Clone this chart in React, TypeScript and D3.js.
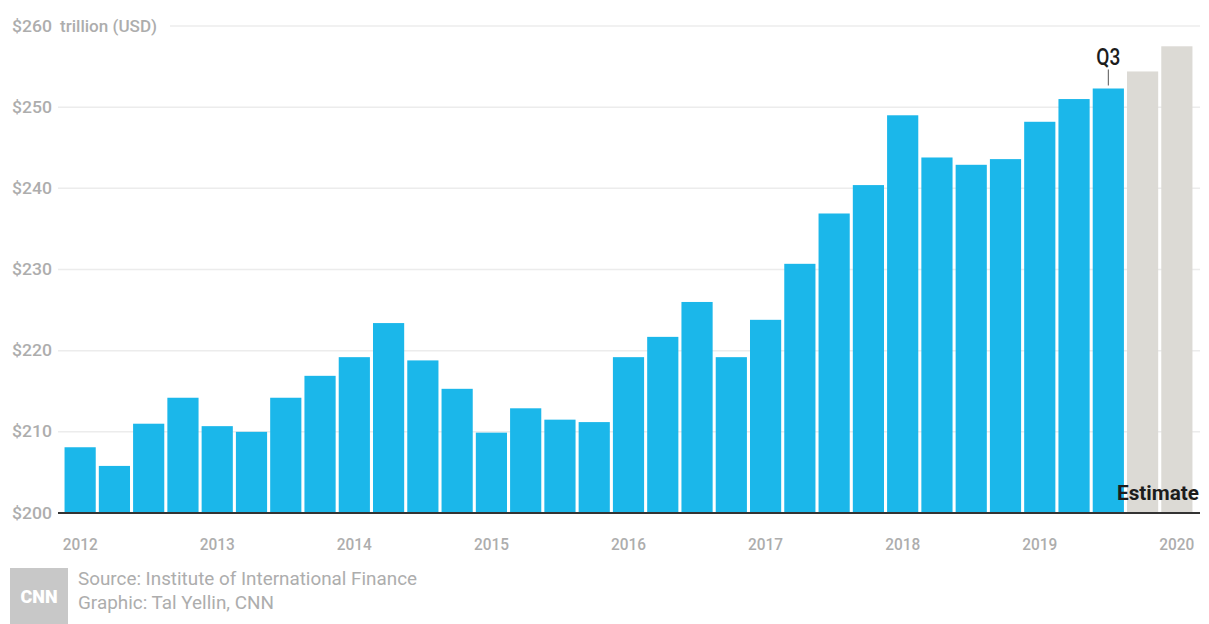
import React from "react";
import * as d3 from "d3";

const quarters = [
  "2012Q1","2012Q2","2012Q3","2012Q4",
  "2013Q1","2013Q2","2013Q3","2013Q4",
  "2014Q1","2014Q2","2014Q3","2014Q4",
  "2015Q1","2015Q2","2015Q3","2015Q4",
  "2016Q1","2016Q2","2016Q3","2016Q4",
  "2017Q1","2017Q2","2017Q3","2017Q4",
  "2018Q1","2018Q2","2018Q3","2018Q4",
  "2019Q1","2019Q2","2019Q3","2019E","2020E",
];
const debt = [
  208.1, 205.8, 211.0, 214.2,
  210.7, 210.0, 214.2, 216.9,
  219.2, 223.4, 218.8, 215.3,
  209.9, 212.9, 211.5, 211.2,
  219.2, 221.7, 226.0, 219.2,
  223.8, 230.7, 236.9, 240.4,
  249.0, 243.8, 242.9, 243.6,
  248.2, 251.0, 252.3, 254.4, 257.5,
];
const isEstimate = quarters.map((q) => q.endsWith("E"));
const yearTicks = ["2012Q1","2013Q1","2014Q1","2015Q1","2016Q1","2017Q1","2018Q1","2019Q1","2020E"];
const yearLabels = ["2012","2013","2014","2015","2016","2017","2018","2019","2020"];
const yTicks = [200, 210, 220, 230, 240, 250, 260];

export default function App() {
  const W = 1209, H = 624;
  const x = d3.scaleBand<string>().domain(quarters).range([63, 1194]).paddingInner(0.09).paddingOuter(0.045);
  const y = d3.scaleLinear().domain([200, 260]).range([513, 26]);
  const font = "Roboto, 'Liberation Sans', sans-serif";
  const gray = "#adadad";
  const q3 = "2019Q3";
  const q3x = (x(q3) as number) + x.bandwidth() / 2;
  const q3y = y(debt[quarters.indexOf(q3)]);
  return (
    <svg width={W} height={H} style={{ position: "absolute", left: 0, top: 0, background: "#fff" }}>
      {yTicks.map((t) => (
        <g key={t}>
          <line x1={t === 260 ? 170 : 58} x2={1200} y1={y(t)} y2={y(t)} stroke="#ececec" strokeWidth={1.5} />
          <text x={12} y={y(t)} dy="0.35em" fill={gray} fontSize={16} fontWeight={500} fontFamily={font}
            textLength={40} lengthAdjust="spacingAndGlyphs">
            {"$" + t}
          </text>
        </g>
      ))}
      <text x={60} y={y(260)} dy="0.35em" fill={gray} fontSize={16} fontWeight={500} fontFamily={font}
        textLength={97} lengthAdjust="spacingAndGlyphs">trillion (USD)</text>
      {quarters.map((q, i) => (
        <rect key={q} x={x(q)} width={x.bandwidth()} y={y(debt[i])} height={y(200) - y(debt[i])}
          fill={isEstimate[i] ? "#dcdad5" : "#1bb7ea"} />
      ))}
      <line x1={58} x2={1200} y1={y(200)} y2={y(200)} stroke="#333" strokeWidth={2} />
      <text x={1117} y={500} fill="#1c1c1c" fontSize={21} fontWeight={700} fontFamily={font}
        textLength={82} lengthAdjust="spacingAndGlyphs">Estimate</text>
      <line x1={q3x} x2={q3x} y1={q3y - 3} y2={q3y - 19} stroke="#555" strokeWidth={1} />
      <text x={q3x} y={65} textAnchor="middle" fill="#1c1c1c" fontSize={23} fontWeight={500} fontFamily={font}
        textLength={24} lengthAdjust="spacingAndGlyphs">Q3</text>
      {yearTicks.map((q, i) => (
        <text key={q} x={(x(q) as number) + x.bandwidth() / 2} y={544} dy="0.35em" textAnchor="middle"
          fill={gray} fontSize={16} fontWeight={500} fontFamily={font}
          textLength={35} lengthAdjust="spacingAndGlyphs">{yearLabels[i]}</text>
      ))}
      <rect x={10} y={568} width={58} height={56} fill="#c8c8c8" />
      <text x={39} y={603} textAnchor="middle" fill="#fff" fontSize={18} fontWeight={900} fontFamily={font}>CNN</text>
      <text x={78} y={585} fill={gray} fontSize={18} fontFamily={font}
        textLength={339} lengthAdjust="spacingAndGlyphs">Source: Institute of International Finance</text>
      <text x={78} y={609} fill={gray} fontSize={18} fontFamily={font}
        textLength={196} lengthAdjust="spacingAndGlyphs">Graphic: Tal Yellin, CNN</text>
    </svg>
  );
}
